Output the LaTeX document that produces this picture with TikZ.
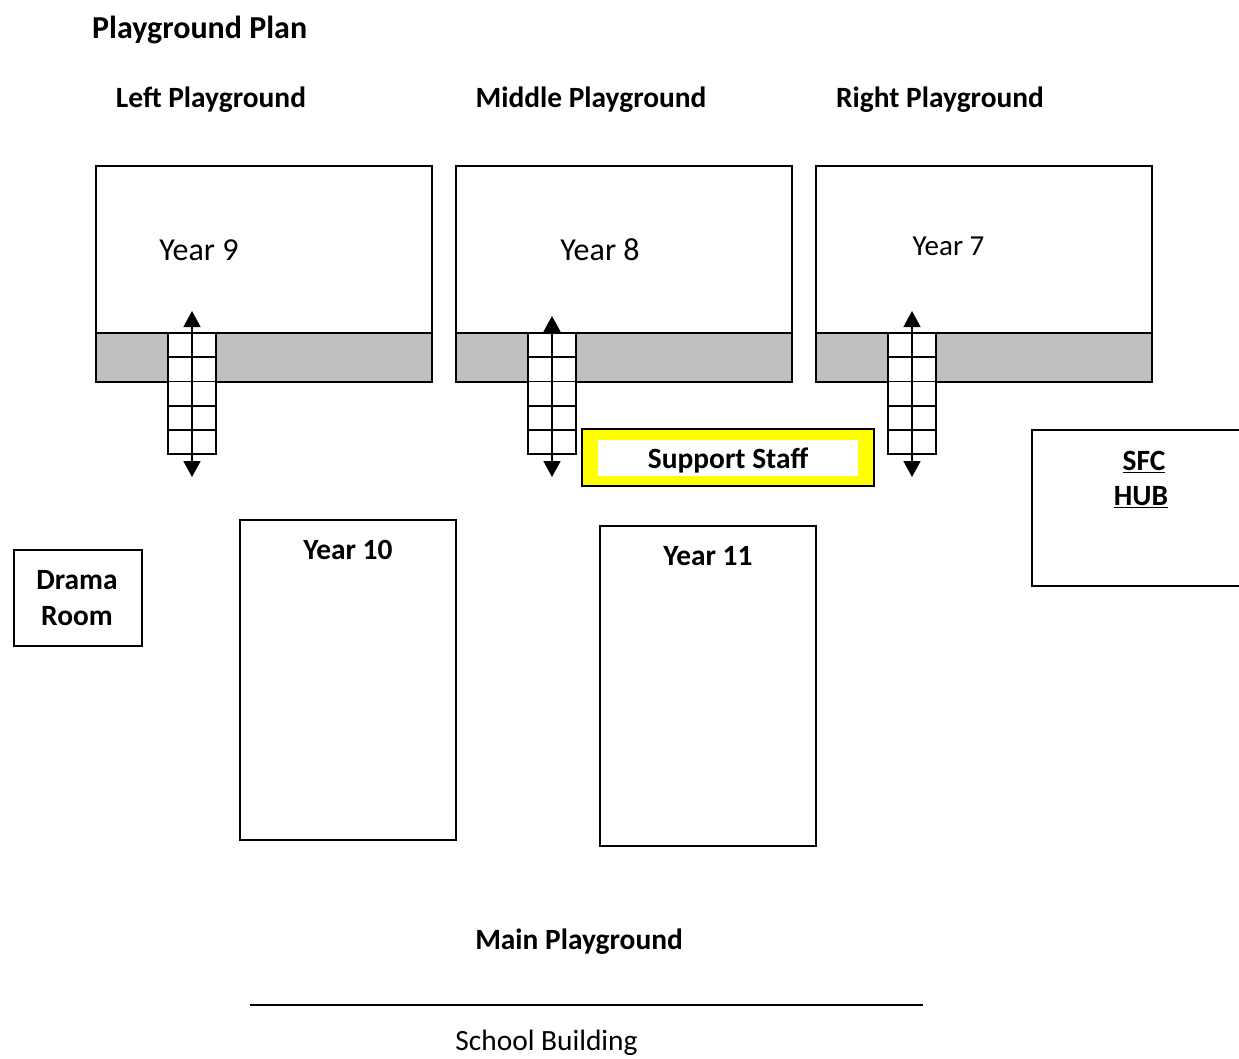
\documentclass[tikz,border=0pt]{standalone}
\usepackage{fontspec}
\setmainfont{Carlito}
\usetikzlibrary{arrows.meta}
\definecolor{bandgrey}{HTML}{C0C0C0}
\definecolor{staffyellow}{HTML}{FFFF00}
\tikzset{
  room/.style={draw=black, line width=1.8pt},
  band/.style={draw=black, line width=1.8pt, fill=bandgrey},
  ladder/.style={draw=black, line width=1.8pt, fill=white},
  rung/.style={draw=black, line width=1.8pt},
  twoway/.style={line width=1.8pt, {Triangle[width=17pt,length=16pt]}-{Triangle[width=17pt,length=16pt]}},
  txt/.style={inner sep=0pt, font=\fontsize{29.4}{35}\selectfont},
  bigtxt/.style={inner sep=0pt, font=\fontsize{32}{38}\selectfont},
  smalltxt/.style={inner sep=0pt, font=\fontsize{29}{34}\selectfont},
  btxt/.style={txt, font=\fontsize{29.4}{35}\selectfont\bfseries},
  ttxt/.style={txt, font=\fontsize{32}{38}\selectfont\bfseries},
}
\begin{document}
\begin{tikzpicture}[x=1pt,y=-1pt]
\clip (0,0) rectangle (1239,1059);
\useasboundingbox (0,0) rectangle (1239,1059);

% titles
\node[ttxt, anchor=west] (title) at (92,30) {Playground Plan};
\node[btxt] (leftlbl) at (211,100) {Left Playground};
\node[btxt] (midlbl) at (591,100) {Middle Playground};
\node[btxt] (rightlbl) at (940,100) {Right Playground};

% top playgrounds
\foreach \x/\nm in {96/L,456/M,816/R}{
  \draw[room] (\x,166) rectangle ++(336,216);
  \draw[band] (\x,333) rectangle ++(336,49);
}
\node[bigtxt, anchor=base] (y9) at (199,260.7) {Year 9};
\node[bigtxt, anchor=base] (y8) at (600,260.7) {Year 8};
\node[smalltxt, anchor=base] (y7) at (948.5,256) {Year 7};

% ladders with arrows
\foreach \x/\t in {168/311,528/316,888/311}{
  \draw[ladder] (\x,333) rectangle ++(48,121);
  \foreach \k in {1,2,3,4}{
    \draw[rung] (\x,333+24.2*\k) -- ++(48,0);
  }
  \coordinate (top\x) at (\x+24,\t);
  \coordinate (bot\x) at (\x+24,477);
  \draw[twoway] (top\x) -- (bot\x);
}

% support staff
\draw[draw=black, line width=1.2pt, fill=staffyellow] (582,429) rectangle (874,486);
\fill[white] (598,440) rectangle (858,476);
\node[btxt] (staff) at (728,460) {Support Staff};

% SFC HUB
\draw[room] (1032,430) rectangle (1250,586);
\node[btxt] (sfc) at (1144,462) {\underline{SFC}};
\node[btxt] (hub) at (1141,497) {\underline{HUB}};

% Drama room
\draw[room] (14,550) rectangle (142,646);
\node[btxt] (drama) at (77,580) {Drama};
\node[btxt] (room) at (77,616) {Room};

% Year 10 / 11
\draw[room] (240,520) rectangle (456,840);
\node[btxt] (y10) at (348,550) {Year 10};
\draw[room] (600,526) rectangle (816,846);
\node[btxt] (y11) at (708,556) {Year 11};

% main playground
\node[btxt] (main) at (579,942) {Main Playground};
\coordinate (wallL) at (250,1005);
\coordinate (wallR) at (923,1005);
\draw[line width=1.8pt] (wallL) -- (wallR);
\node[txt, anchor=base] (school) at (546.5,1050) {School Building};
\end{tikzpicture}
\end{document}
